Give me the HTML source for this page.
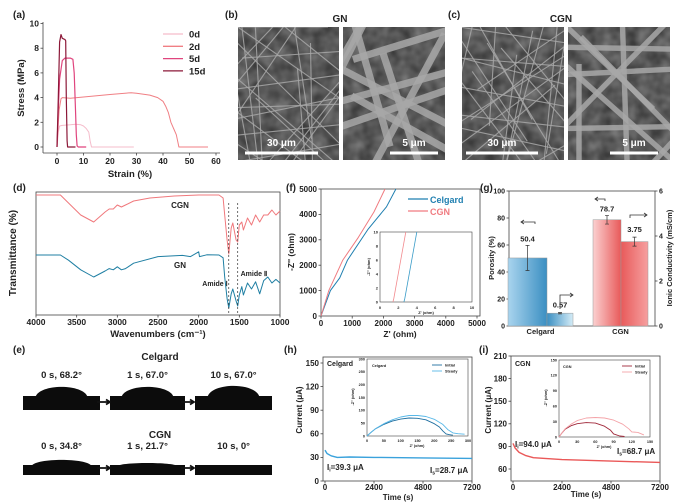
<!DOCTYPE html>
<html><head><meta charset="utf-8">
<style>
html,body{margin:0;padding:0;background:#fff;}
svg{display:block;font-family:"Liberation Sans",sans-serif;font-weight:bold;}
text{fill:#222;}
</style></head>
<body>
<svg id="fig" width="684" height="504" viewBox="0 0 684 504" xmlns="http://www.w3.org/2000/svg">
<defs>
<filter id="tex" x="0" y="0" width="100%" height="100%">
<feTurbulence type="fractalNoise" baseFrequency="0.08" numOctaves="2" seed="3"/>
<feColorMatrix type="matrix" values="0 0 0 0 0.45  0 0 0 0 0.45  0 0 0 0 0.45  0 0 0 1.2 -0.2"/>
</filter>
<linearGradient id="gBlue" x1="0" x2="1"><stop offset="0" stop-color="#a9d4ee"/><stop offset="1" stop-color="#3b8fc2"/></linearGradient>
<linearGradient id="gBlue2" x1="0" x2="1"><stop offset="0" stop-color="#3b8fc2"/><stop offset="1" stop-color="#d4ecf7"/></linearGradient>
<linearGradient id="gRed" x1="0" x2="1"><stop offset="0" stop-color="#fbd0d0"/><stop offset="1" stop-color="#e85a5a"/></linearGradient>
<linearGradient id="gRed2" x1="0" x2="1"><stop offset="0" stop-color="#e85a5a"/><stop offset="1" stop-color="#f6a0a0"/></linearGradient>
</defs>
<g id="root"></g>
</svg>
<script>
// ---------- DATA ----------
// (a) stress-strain
const aStrain0 = [0,0.5,1,2,5,7,9,10,11,12,12.5,13,20,29];
const aStress0 = [0,1.2,1.7,1.75,1.8,1.85,1.8,1.7,1.5,1.2,0.5,0,0,0];
const aStrain2 = [0,0.8,1.5,2,5,10,20,28,30,35,38,40,41,42,43,44,45,45.5,46,50,57];
const aStress2 = [0,3,3.9,4,3.95,4.05,4.25,4.4,4.35,4.2,4.0,3.7,3.3,2.8,2.0,1.5,1.0,0.5,0,0,0];
const aStrain5 = [0,0.5,1,2,3,5,6,6.5,7,7.3,7.6,8,11];
const aStress5 = [0,3,5.5,7,7.2,7.2,7.1,6,3,1,0.1,0,0];
const aStrain15 = [0,0.5,1,1.5,2,3,3.3,3.5,3.8,4,5,7];
const aStress15 = [0,4,8.5,9.1,8.8,8.7,8.6,4,0.5,0,0,0];
const aXTicks = [0,10,20,30,40,50,60];
const aYTicks = [0,2,4,6,8,10];
// (d) FTIR
const dWaveCGN = [4000,3700,3600,3450,3290,3150,3100,3050,3000,2950,2900,2800,2600,2300,2000,1750,1700,1680,1650,1630,1600,1580,1540,1520,1500,1470,1450,1400,1350,1300,1250,1200,1150,1100,1050,1000];
const dTransCGN = [98.3,98.3,91.7,81.7,75.8,84.2,86.7,86.7,90,88.3,90,93.3,95.8,97.5,98.3,98.3,95.8,81.7,60.8,49.2,70.8,75,60.8,59.2,73.3,75.8,69.2,79.2,73.3,81.7,75.8,81.7,81.7,85.8,81.7,85];
const dWaveGN = [4000,3700,3600,3450,3290,3150,3100,3050,3000,2950,2900,2800,2500,2200,2100,2000,1990,1900,1750,1700,1680,1650,1630,1600,1580,1540,1520,1500,1470,1450,1400,1350,1300,1250,1200,1150,1100,1050,1000];
const dTransGN = [48.3,48.3,44,36,30,35,37,36,38.5,36,37,41.5,47,48,47,51,47,48.5,48.3,46,30,12,4.2,16,20,10,5.8,15,22,15,25,20,26,16,27,30,25,28,25];
const dXTicks = [4000,3500,3000,2500,2000,1500,1000];
// (f) Nyquist
const fZreCel = [0,300,600,850,1500,2100,2400];
const fZimCel = [0,1000,1500,2200,3400,4300,5000];
const fZreCGN = [0,250,700,1200,1700,2050];
const fZimCGN = [0,1000,2200,3100,4100,5000];
const fInReCel = [2.6,2.7,4.0];
const fInImCel = [0,0.5,10];
const fInReCGN = [1.4,1.5,2.8];
const fInImCGN = [0,0.5,10];
const fTicks = [0,1000,2000,3000,4000,5000];
const fInTicks = [0,2,4,6,8,10];
// (g) bars
const gCategories = ["Celgard","CGN"];
const gPorosity = [50.4,78.7];
const gPorosityErr = [9.3,3.2];
const gConductivity = [0.57,3.75];
const gConductivityErr = [0.03,0.2];
const gLeftTicks = [0,20,40,60,80,100];
const gRightTicks = [0,2,4,6];
// (h) Celgard chrono
const hTime = [0,100,300,600,1200,2400,4800,7200];
const hCurrent = [39.3,35,32,30,30.5,30,29.4,28.7];
const hInReInit = [0,10,25,50,75,100,125,150,175,200,215,225,235,245,255];
const hInImInit = [0,12,28,45,58,66,70,69,63,48,35,20,8,5,3];
const hInReSteady = [0,10,25,50,75,100,125,150,175,200,225,240,255,270,290];
const hInImSteady = [0,12,28,48,63,74,80,80,76,65,45,25,12,9,7];
const hXTicks = [0,2400,4800,7200];
const hYTicks = [0,30,60,90,120,150];
const hInTicks = [0,50,100,150,200,250,300];
// (i) CGN chrono
const iTime = [0,100,300,600,1000,2400,4800,7200];
const iCurrent = [94,88,82,78,75,72.5,70.5,68.7];
const iInReInit = [0,5,10,20,30,45,60,75,85,90,95,100,108];
const iInImInit = [0,8,15,22,26,28,27,21,13,6,4,2,1];
const iInReSteady = [0,5,10,20,30,45,60,75,90,105,115,120,130,140];
const iInImSteady = [0,8,16,25,32,37,38,37,33,25,16,10,9,4];
const iXTicks = [0,2400,4800,7200];
const iYTicks = [60,90,120,150,180,210];
const iInTicks = [0,30,60,90,120,150];

// ---------- HELPERS ----------
const NS = "http://www.w3.org/2000/svg";
const root = document.getElementById("root");
function mk(tag, attrs, name, inter){
  const el = document.createElementNS(NS, tag);
  for (const k in attrs) el.setAttribute(k, attrs[k]);
  
  
  root.appendChild(el);
  return el;
}
function txt(x,y,s,size,name,anchor,extra){
  const el = mk("text", Object.assign({x:x,y:y,"font-size":size,"text-anchor":anchor||"start"}, extra||{}), name, false);
  el.textContent = s;
  return el;
}
function lin(d0,d1,r0,r1){ return v => r0 + (v-d0)/(d1-d0)*(r1-r0); }
function line(xs, ys, fx, fy, color, w, name, extra){
  let d = "";
  for (let i=0;i<xs.length;i++) d += (i?"L":"M") + fx(xs[i]).toFixed(1) + "," + fy(ys[i]).toFixed(1);
  return mk("path", Object.assign({d:d, fill:"none", stroke:color, "stroke-width":w, "stroke-linejoin":"round"}, extra||{}), name, false);
}
function box(x0,y0,x1,y1,name){ return mk("rect",{x:x0,y:y0,width:x1-x0,height:y1-y0,fill:"none",stroke:"#444","stroke-width":0.8},name,false); }
function xticks(ticks, fx, y, size, name, lblY){
  ticks.forEach(t=>{
    mk("line",{x1:fx(t),x2:fx(t),y1:y,y2:y+2.5,stroke:"#444","stroke-width":0.8},name+"-tick",false);
    txt(fx(t), lblY, String(t), size, name+"-label","middle");
  });
}
function yticks(ticks, fy, x, size, name, right){
  ticks.forEach(t=>{
    mk("line",{x1:x,x2:right?x+2.5:x-2.5,y1:fy(t),y2:fy(t),stroke:"#444","stroke-width":0.8},name+"-tick",false);
    txt(right?x+4:x-4, fy(t)+size*0.35, String(t), size, name+"-label", right?"start":"end");
  });
}

// ---------- (a) ----------
txt(13,18,"(a)",10,"panel-a-label");
{
  const fx = lin(0,60,57,216), fy = lin(0,10,147,23.5);
  mk("line",{x1:43,x2:43,y1:22,y2:153,stroke:"#444","stroke-width":0.8},"a-y-axis",false);
  mk("line",{x1:43,x2:220,y1:153,y2:153,stroke:"#444","stroke-width":0.8},"a-x-axis",false);
  xticks(aXTicks,fx,153,8.5,"a-x",164);
  yticks(aYTicks,fy,43,8.5,"a-y");
  txt(130,177,"Strain (%)",9.5,"a-x-axis-title","middle");
  txt(24,88,"Stress (MPa)",9.5,"a-y-axis-title","middle",{transform:"rotate(-90 24 88)"});
  const cols = ["#f5bccb","#f07f84","#e0457e","#8c1838"];
  const names = ["0d","2d","5d","15d"];
  line(aStrain0,aStress0,fx,fy,cols[0],1,"series-0d");
  line(aStrain2,aStress2,fx,fy,cols[1],1,"series-2d");
  line(aStrain5,aStress5,fx,fy,cols[2],1.2,"series-5d");
  line(aStrain15,aStress15,fx,fy,cols[3],1.2,"series-15d");
  names.forEach((n,i)=>{
    const y = 34+i*12.3;
    mk("line",{x1:163,x2:183,y1:y,y2:y,stroke:cols[i],"stroke-width":1.3},"legend-swatch-"+n,false);
    txt(189,y+3.5,n,9.5,"legend-entry-"+n);
  });
}

// ---------- (b),(c) SEM ----------
txt(225,18,"(b)",10,"panel-b-label");
txt(448,18,"(c)",10,"panel-c-label");
txt(340,22,"GN",10,"gn-title","middle");
txt(561,22,"CGN",10,"cgn-title","middle");
const sem = [[238,339,"gn-sem-30um","30 μm",245,318,6],[343,445,"gn-sem-5um","5 μm",390,438,16],[462,564,"cgn-sem-30um","30 μm",466,538,3],[568,670,"cgn-sem-5um","5 μm",610,658,12]];
{
  const defs=document.querySelector("defs");
  sem.forEach(([x0,x1],k)=>{
    const cp=document.createElementNS(NS,"clipPath"); cp.setAttribute("id","c"+k);
    const r=document.createElementNS(NS,"rect"); r.setAttribute("x",x0);r.setAttribute("y",27);r.setAttribute("width",x1-x0);r.setAttribute("height",133);
    cp.appendChild(r); defs.appendChild(cp);
  });
}
sem.forEach(([x0,x1,n,lab,s0,s1,fw],k)=>{
  mk("rect",{x:x0,y:27,width:x1-x0,height:133,fill:"#3c3c3c"},n,false);
  mk("rect",{x:x0,y:27,width:x1-x0,height:133,fill:"#777",filter:"url(#tex)",opacity:0.6},n+"-texture",false);
  const cnt = fw>10?10:26;
  for(let j=0;j<cnt;j++){
    const a=(j*0.37+k)*2.1, cx=x0+((j*37+k*13)%(x1-x0)), cy=27+((j*53+k*7)%133);
    const dx=Math.cos(a)*90, dy=Math.sin(a)*90;
    mk("line",{x1:cx-dx,y1:cy-dy,x2:cx+dx,y2:cy+dy,stroke:"#a8a8a8","stroke-width":fw>10?fw*0.45:1.1,opacity:0.85,"clip-path":"url(#c"+k+")"},n+"-fiber",false);
  }
  mk("line",{x1:s0,x2:s1,y1:153,y2:153,stroke:"#fff","stroke-width":3},n+"-scale-bar",false);
  txt((s0+s1)/2,146,lab,10,n+"-scale-label","middle",{style:"fill:#fff"});
});

// ---------- (d) ----------
txt(13,191,"(d)",10,"panel-d-label");
{
  const fx = lin(4000,1000,36,280), fy = lin(0,100,313,193);
  box(36,192,280,315,"d-plot-frame");
  xticks(dXTicks,fx,315,8.5,"d-x",325);
  txt(158,337,"Wavenumbers (cm⁻¹)",9.5,"d-x-axis-title","middle");
  txt(16,253,"Transmittance (%)",10,"d-y-axis-title","middle",{transform:"rotate(-90 16 253)"});
  line(dWaveCGN,dTransCGN,fx,fy,"#f0787c",1,"series-cgn-ftir");
  line(dWaveGN,dTransGN,fx,fy,"#1f7fa3",1,"series-gn-ftir");
  [1630,1520].forEach(w=>mk("line",{x1:fx(w),x2:fx(w),y1:203,y2:315,stroke:"#333","stroke-width":0.7,"stroke-dasharray":"2,2"},"amide-marker",false));
  txt(180,208,"CGN",8,"cgn-curve-label","middle");
  txt(180,268,"GN",8,"gn-curve-label","middle");
  txt(215,286,"Amide Ⅰ",7,"amide-1-label","middle");
  txt(254,276,"Amide Ⅱ",7,"amide-2-label","middle");
}

// ---------- (f) ----------
txt(286,191,"(f)",10,"panel-f-label");
{
  const fx = lin(0,5000,321,477), fy = lin(0,5000,316,189);
  box(321,189,480,316,"f-plot-frame");
  xticks(fTicks,fx,316,8,"f-x",326);
  yticks(fTicks,fy,321,8,"f-y");
  txt(400,337,"Z' (ohm)",8.5,"f-x-axis-title","middle");
  txt(294,252,"-Z'' (ohm)",8.5,"f-y-axis-title","middle",{transform:"rotate(-90 294 252)"});
  line(fZreCel,fZimCel,fx,fy,"#1f7fb0",1,"series-celgard-nyquist");
  line(fZreCGN,fZimCGN,fx,fy,"#f07b80",1,"series-cgn-nyquist");
  mk("line",{x1:408,x2:428,y1:199,y2:199,stroke:"#1f7fb0","stroke-width":1.3},"legend-swatch-celgard",false);
  txt(430,203,"Celgard",9,"legend-entry-celgard",null,{style:"fill:#1f7fb0"});
  mk("line",{x1:408,x2:428,y1:211,y2:211,stroke:"#f07b80","stroke-width":1.3},"legend-swatch-cgn",false);
  txt(430,215,"CGN",9,"legend-entry-cgn",null,{style:"fill:#f07b80"});
  const gx = lin(0,10,380,472), gy = lin(0,10,302,232);
  mk("rect",{x:380,y:232,width:92,height:70,fill:"#fff",stroke:"#444","stroke-width":0.6},"f-inset-frame",false);
  fInTicks.forEach(t=>{ txt(gx(t),309,String(t),4,"f-inset-x-label","middle"); txt(378,gy(t)+1.5,String(t),4,"f-inset-y-label","end"); });
  txt(426,314,"Z' (ohm)",4,"f-inset-x-title","middle");
  txt(370,267,"-Z'' (ohm)",4,"f-inset-y-title","middle",{transform:"rotate(-90 370 267)"});
  line(fInReCel,fInImCel,gx,gy,"#3a9cc8",0.8,"inset-celgard");
  line(fInReCGN,fInImCGN,gx,gy,"#f28a8e",0.8,"inset-cgn");
}

// ---------- (g) ----------
txt(480,191,"(g)",10,"panel-g-label");
{
  const fyL = lin(0,100,326,191), fyR = lin(0,6,326,191);
  box(509,191,655,326,"g-plot-frame");
  yticks(gLeftTicks,fyL,509,7,"g-left-y");
  yticks(gRightTicks,fyR,655,7,"g-right-y",true);
  txt(494,258,"Porosity (%)",7.5,"g-left-axis-title","middle",{transform:"rotate(-90 494 258)"});
  txt(672,258,"Ionic Conductivity (mS/cm)",7.5,"g-right-axis-title","middle",{transform:"rotate(-90 672 258)"});
  const groupX = [508,593];
  const fills = [["url(#gBlue)","url(#gBlue2)"],["url(#gRed)","url(#gRed2)"]];
  gCategories.forEach((c,i)=>{
    const x0 = groupX[i];
    const yp = fyL(gPorosity[i]), yc = fyR(gConductivity[i]);
    const w0 = i===0?39:28, w1 = i===0?26:27;
    mk("rect",{x:x0,y:yp,width:w0,height:326-yp,fill:fills[i][0],stroke:"#999","stroke-width":0.5},"bar-porosity-"+c.toLowerCase(),false);
    mk("rect",{x:x0+w0,y:yc,width:w1,height:326-yc,fill:fills[i][1],stroke:"#999","stroke-width":0.5},"bar-conductivity-"+c.toLowerCase(),false);
    const px = x0+w0/2, cx = x0+w0+w1/2;
    mk("path",{d:`M${px-2},${fyL(gPorosity[i]+gPorosityErr[i])}h4M${px},${fyL(gPorosity[i]+gPorosityErr[i])}V${fyL(gPorosity[i]-gPorosityErr[i])}M${px-2},${fyL(gPorosity[i]-gPorosityErr[i])}h4`,stroke:"#333","stroke-width":0.7,fill:"none"},"error-porosity-"+c.toLowerCase(),false);
    mk("path",{d:`M${cx-2},${fyR(gConductivity[i]+gConductivityErr[i])}h4M${cx},${fyR(gConductivity[i]+gConductivityErr[i])}V${fyR(gConductivity[i]-gConductivityErr[i])}M${cx-2},${fyR(gConductivity[i]-gConductivityErr[i])}h4`,stroke:"#333","stroke-width":0.7,fill:"none"},"error-conductivity-"+c.toLowerCase(),false);
    txt(px, fyL(gPorosity[i]+gPorosityErr[i])-4, gPorosity[i].toFixed(1), 7.5,"value-porosity-"+c.toLowerCase(),"middle");
    txt(cx, fyR(gConductivity[i]+gConductivityErr[i])-5, String(gConductivity[i]), 7.5,"value-conductivity-"+c.toLowerCase(),"middle");
    txt((x0+x0+w0+w1)/2, 334, c, 7.5,"g-category-"+c.toLowerCase(),"middle");
  });
  const arr = (d,n)=>mk("path",{d:d,stroke:"#333","stroke-width":0.8,fill:"none"},n,false);
  arr("M535,224V222H521M524,220L521,222L524,224","arrow-left-celgard");
  arr("M560,309V295H573M570,293L573,295L570,297","arrow-right-celgard");
  arr("M605,201V199H595M598,197L595,199L598,201","arrow-left-cgn");
  arr("M630,218V215H647M644,213L647,215L644,217","arrow-right-cgn");
}

// ---------- (e) ----------
txt(13,353,"(e)",10,"panel-e-label");
txt(160,360,"Celgard",10,"e-celgard-title","middle");
txt(160,438,"CGN",10,"e-cgn-title","middle");
const drops = [
 [23,100,"0 s, 68.2°",397,10,"drop-celgard-0s"],[110,185,"1 s, 67.0°",397,10,"drop-celgard-1s"],[195,272,"10 s, 67.0°",397,11,"drop-celgard-10s"],
 [23,100,"0 s, 34.8°",466,6,"drop-cgn-0s"],[110,185,"1 s, 21.7°",466,3,"drop-cgn-1s"],[195,272,"10 s, 0°",466,1,"drop-cgn-10s"]];
drops.forEach(([x0,x1,lab,yb,h,n],i)=>{
  mk("rect",{x:x0,y:yb-1,width:x1-x0,height:i<3?14:10,fill:"#0c0c0c"},n+"-substrate",false);
  const cx=(x0+x1)/2, r=i<3?26:30;
  mk("path",{d:`M${cx-r},${yb}C${cx-r*0.85},${yb-h*1.35} ${cx+r*0.85},${yb-h*1.35} ${cx+r},${yb}Z`,fill:"#0c0c0c"},n,false);
  txt(cx,(i<3?378:449),lab,9.5,n+"-label","middle");
});
[[104,402],[188,402],[104,468],[188,468]].forEach(([x,y],k)=>{
  mk("path",{d:`M${x-7},${y}H${x+5}M${x+2},${y-2.5}L${x+6},${y}L${x+2},${y+2.5}`,stroke:"#111","stroke-width":1.8,fill:"none"},"e-arrow",false);
});

// ---------- (h) ----------
txt(284,353,"(h)",10,"panel-h-label");
{
  const fx = lin(0,7200,325,472), fy = lin(0,150,481,363);
  box(323,357,472,481,"h-plot-frame");
  xticks(hXTicks,fx,481,8,"h-x",490);
  yticks(hYTicks,fy,323,8,"h-y");
  txt(398,500,"Time (s)",8,"h-x-axis-title","middle");
  txt(302,410,"Current (μA)",8,"h-y-axis-title","middle",{transform:"rotate(-90 302 410)"});
  line(hTime,hCurrent,fx,fy,"#3aa2dc",1.4,"series-celgard-current");
  txt(327,366,"Celgard",7,"h-celgard-label");
  txt(327,470,"I",8,"h-ii-label").innerHTML='I<tspan font-size="5" dy="1.5">i</tspan><tspan dy="-1.5">=39.3 μA</tspan>';
  txt(430,473,"I",8,"h-is-label").innerHTML='I<tspan font-size="5" dy="1.5">s</tspan><tspan dy="-1.5">=28.7 μA</tspan>';
  const gx = lin(0,300,367,468), gy = lin(0,300,436,359);
  mk("rect",{x:367,y:359,width:101,height:77,fill:"#fff",stroke:"#444","stroke-width":0.6},"h-inset-frame",false);
  hInTicks.forEach(t=>{ txt(gx(t),442,String(t),3.8,"h-inset-x-label","middle"); txt(365,gy(t)+1.3,String(t),3.8,"h-inset-y-label","end"); });
  txt(417,447,"Z' (ohm)",3.8,"h-inset-x-title","middle");
  txt(354,397,"-Z'' (ohm)",3.8,"h-inset-y-title","middle",{transform:"rotate(-90 354 397)"});
  txt(372,367,"Celgard",3.8,"h-inset-title");
  line(hInReInit,hInImInit,gx,gy,"#1f6fa0",0.9,"inset-celgard-initial");
  line(hInReSteady,hInImSteady,gx,gy,"#58b8e8",0.9,"inset-celgard-steady");
  mk("line",{x1:432,x2:442,y1:365,y2:365,stroke:"#1f6fa0","stroke-width":0.9},"legend-swatch-initial-h",false);
  txt(445,366.5,"Initial",3.8,"legend-entry-initial-h");
  mk("line",{x1:432,x2:442,y1:371,y2:371,stroke:"#58b8e8","stroke-width":0.9},"legend-swatch-steady-h",false);
  txt(445,372.5,"Steady",3.8,"legend-entry-steady-h");
}

// ---------- (i) ----------
txt(479,353,"(i)",10,"panel-i-label");
{
  const fx = lin(0,7200,513,660), fy = lin(60,210,469,356);
  box(511,356,660,481,"i-plot-frame");
  xticks(iXTicks,fx,481,8,"i-x",490);
  yticks(iYTicks,fy,511,8,"i-y");
  txt(586,497,"Time (s)",8,"i-x-axis-title","middle");
  txt(491,410,"Current (μA)",8,"i-y-axis-title","middle",{transform:"rotate(-90 491 410)"});
  line(iTime,iCurrent,fx,fy,"#ea5858",1.4,"series-cgn-current");
  txt(515,366,"CGN",7,"i-cgn-label");
  txt(515,447,"I",8,"i-ii-label").innerHTML='I<tspan font-size="5" dy="1.5">i</tspan><tspan dy="-1.5">=94.0 μA</tspan>';
  txt(617,454,"I",8,"i-is-label").innerHTML='I<tspan font-size="5" dy="1.5">s</tspan><tspan dy="-1.5">=68.7 μA</tspan>';
  const gx = lin(0,150,559,650), gy = lin(0,150,437,360);
  mk("rect",{x:559,y:360,width:91,height:77,fill:"#fff",stroke:"#444","stroke-width":0.6},"i-inset-frame",false);
  iInTicks.forEach(t=>{ txt(gx(t),443,String(t),3.8,"i-inset-x-label","middle"); txt(557,gy(t)+1.3,String(t),3.8,"i-inset-y-label","end"); });
  txt(604,448,"Z' (ohm)",3.8,"i-inset-x-title","middle");
  txt(547,398,"-Z'' (ohm)",3.8,"i-inset-y-title","middle",{transform:"rotate(-90 547 398)"});
  txt(563,368,"CGN",3.8,"i-inset-title");
  line(iInReInit,iInImInit,gx,gy,"#a0283a",0.9,"inset-cgn-initial");
  line(iInReSteady,iInImSteady,gx,gy,"#f4a3a8",0.9,"inset-cgn-steady");
  mk("line",{x1:622,x2:632,y1:366,y2:366,stroke:"#a0283a","stroke-width":0.9},"legend-swatch-initial-i",false);
  txt(635,367.5,"Initial",3.8,"legend-entry-initial-i");
  mk("line",{x1:622,x2:632,y1:372,y2:372,stroke:"#f4a3a8","stroke-width":0.9},"legend-swatch-steady-i",false);
  txt(635,373.5,"Steady",3.8,"legend-entry-steady-i");
}
</script>
</body></html>
